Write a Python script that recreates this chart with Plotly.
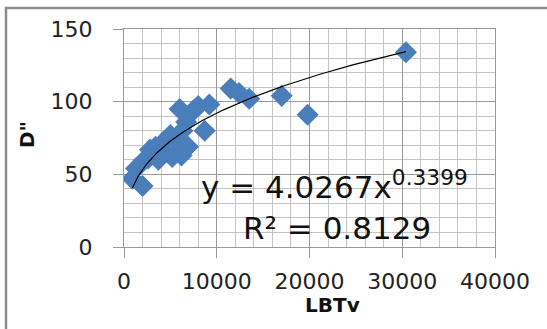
import numpy as np
import plotly.graph_objects as go

# Observed LBTv and D" values
lbtv = [900, 2000, 1300, 1900, 2600, 2800, 3400, 3700, 4200, 4500, 5000, 5200,
        5800, 6000, 6200, 6900, 6700, 7500, 8000, 8700, 9200, 6300, 11500, 12400,
        13500, 17000, 19800, 30400]
d_val = [47, 42, 54, 58, 61, 67, 69, 60, 72, 65, 77, 62,
         72, 95, 63, 69, 86, 94, 97, 80, 98, 80, 109, 106,
         102, 104, 91, 134]

# Power trendline coefficients (y = a * x^b)
coef_a = 4.0267
coef_b = 0.3399
r_squared = 0.8129

x_ticks = [0, 10000, 20000, 30000, 40000]
y_ticks = [0, 50, 100, 150]

FONT = "DejaVu Sans"
BLUE = "#4A7EBB"

fig = go.Figure()

fig.add_trace(go.Scatter(
    x=lbtv, y=d_val, mode="markers",
    marker=dict(symbol="diamond", size=17, color=BLUE, line=dict(width=0)),
    showlegend=False, hoverinfo="skip",
))

xs = np.linspace(min(lbtv), max(lbtv), 300)
fig.add_trace(go.Scatter(
    x=xs, y=coef_a * xs ** coef_b, mode="lines",
    line=dict(color="black", width=1.2),
    showlegend=False, hoverinfo="skip",
))

axis_common = dict(
    showline=True, linecolor="#999999", linewidth=1, mirror=True,
    showgrid=True, gridcolor="#999999", gridwidth=1,
    zeroline=False,
    ticks="outside", ticklen=10, tickcolor="#999999", tickwidth=1,
    tickfont=dict(family=FONT, size=22, color="#222222"),
)

fig.update_xaxes(
    range=[0, 40000], tickvals=x_ticks, ticktext=[str(v) for v in x_ticks],
    minor=dict(dtick=2000, showgrid=True, gridcolor="#C4C4C4", gridwidth=1, ticks=""),
    ticklabelstandoff=5,
    **axis_common,
)
fig.update_yaxes(
    range=[0, 150], tickvals=y_ticks, ticktext=[str(v) for v in y_ticks],
    minor=dict(dtick=10, showgrid=True, gridcolor="#C4C4C4", gridwidth=1, ticks=""),
    ticklabelstandoff=16,
    **axis_common,
)

W, H = 547, 329
ML, MR, MT, MB = 124, 52, 29, 82
pw, ph = W - ML - MR, H - MT - MB


def px_to_paper(px, py):
    return (px - ML) / pw, (H - MB - py) / ph


annotations = []
ax, ay = px_to_paper(199, 185)
annotations.append(dict(
    text=f"y = {coef_a}x<sup>{coef_b}</sup>", x=ax, y=ay, xref="paper", yref="paper",
    xanchor="left", yanchor="middle", showarrow=False,
    font=dict(family=FONT, size=31, color="#111111"),
))
ax, ay = px_to_paper(241, 228)
annotations.append(dict(
    text=f"R² = {r_squared}", x=ax, y=ay, xref="paper", yref="paper",
    xanchor="left", yanchor="middle", showarrow=False,
    font=dict(family=FONT, size=31, color="#111111"),
))
ax, ay = px_to_paper(332, 305)
annotations.append(dict(
    text="<b>LBTv</b>", x=ax, y=ay, xref="paper", yref="paper",
    xanchor="center", yanchor="middle", showarrow=False,
    font=dict(family=FONT, size=20, color="#111111"),
))
ax, ay = px_to_paper(27, 135)
annotations.append(dict(
    text='<b>D"</b>', x=ax, y=ay, xref="paper", yref="paper", textangle=-90,
    xanchor="center", yanchor="middle", showarrow=False,
    font=dict(family=FONT, size=20, color="#111111"),
))

# Outer chart frame (left and top edges visible)
x0, y0 = px_to_paper(6, 8)
x1, y1 = px_to_paper(600, 400)
shapes = [dict(type="rect", xref="paper", yref="paper", x0=x0, y0=y1, x1=x1, y1=y0,
               line=dict(color="#8C8C8C", width=2.5), fillcolor="rgba(0,0,0,0)", layer="below")]

fig.update_layout(
    width=W, height=H,
    margin=dict(l=ML, r=MR, t=MT, b=MB, pad=0),
    paper_bgcolor="white", plot_bgcolor="white",
    annotations=annotations, shapes=shapes,
    showlegend=False,
)

fig.write_html("out.html")
